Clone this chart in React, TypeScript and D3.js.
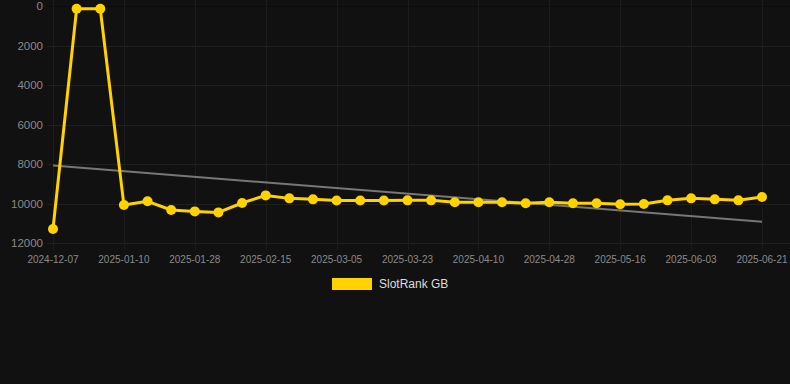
import React from "react";
import * as d3 from "d3";

const categories: string[] = [
  "2024-12-07", "2024-12-25", "2025-01-04", "2025-01-10", "2025-01-16", "2025-01-22",
  "2025-01-28", "2025-02-03", "2025-02-09", "2025-02-15", "2025-02-21", "2025-02-27",
  "2025-03-05", "2025-03-11", "2025-03-17", "2025-03-23", "2025-03-29", "2025-04-04",
  "2025-04-10", "2025-04-16", "2025-04-22", "2025-04-28", "2025-05-04", "2025-05-10",
  "2025-05-16", "2025-05-22", "2025-05-28", "2025-06-03", "2025-06-09", "2025-06-15",
  "2025-06-21",
];

const rankValues: number[] = [
  11290, 140, 140, 10080, 9890, 10330, 10400, 10450, 9975, 9590, 9740, 9790,
  9850, 9850, 9850, 9840, 9840, 9940, 9940, 9940, 9990, 9940, 9990, 9990,
  10040, 10025, 9840, 9740, 9790, 9840, 9670,
];

const trendValues: number[] = [8080, 10920];

const yTicks: number[] = [0, 2000, 4000, 6000, 8000, 10000, 12000];

const seriesName = "SlotRank GB";

const W = 790;
const H = 384;

export default function App() {
  const x = d3.scalePoint<string>().domain(categories).range([53, 762]);
  const y = d3.scaleLinear().domain([0, 12000]).range([6, 243]);

  const labelCats = categories.filter((_, i) => i % 3 === 0);

  const line = d3
    .line<number>()
    .x((_, i) => x(categories[i]) as number)
    .y((d) => y(d));

  const x0 = x(categories[0]) as number;
  const x1 = x(categories[categories.length - 1]) as number;

  return (
    <svg
      width={W}
      height={H}
      style={{ position: "fixed", left: 0, top: 0, display: "block" }}
      fontFamily="'Liberation Sans', Arial, sans-serif"
    >
      <rect x={0} y={0} width={W} height={H} fill="#111111" />
      {/* horizontal grid */}
      {yTicks.map((t) => (
        <line
          key={"h" + t}
          x1={47}
          x2={W}
          y1={Math.round(y(t)) + 0.5}
          y2={Math.round(y(t)) + 0.5}
          stroke={t === 0 ? "#0b0b0b" : "#1f1f1f"}
          strokeWidth={1}
        />
      ))}
      {/* vertical grid */}
      {labelCats.map((c) => (
        <line
          key={"v" + c}
          x1={Math.round(x(c) as number) + 0.5}
          x2={Math.round(x(c) as number) + 0.5}
          y1={0}
          y2={250}
          stroke="#1c1c1c"
          strokeWidth={1}
        />
      ))}
      {/* y labels */}
      {yTicks.map((t) => (
        <text
          key={"yl" + t}
          x={43}
          y={y(t)}
          dy="0.35em"
          textAnchor="end"
          fontSize={11.5}
          fill="#8a8a8a"
        >
          {t}
        </text>
      ))}
      {/* x labels */}
      {labelCats.map((c) => (
        <text
          key={"xl" + c}
          x={x(c) as number}
          y={259.5}
          dy="0.35em"
          textAnchor="middle"
          fontSize={10}
          fill="#8a8a8a"
        >
          {c}
        </text>
      ))}
      {/* trend */}
      <line
        x1={x0}
        x2={x1}
        y1={y(trendValues[0])}
        y2={y(trendValues[1])}
        stroke="#777777"
        strokeWidth={2}
      />
      {/* series */}
      <path
        d={line(rankValues) || ""}
        fill="none"
        stroke="#FFD200"
        strokeWidth={3}
        strokeLinejoin="round"
      />
      {rankValues.map((v, i) => (
        <circle
          key={"p" + i}
          cx={x(categories[i]) as number}
          cy={y(v)}
          r={5}
          fill="#FFD200"
        />
      ))}
      {/* legend */}
      <rect x={332} y={278} width={40} height={12} fill="#FFD200" />
      <text x={379} y={284} dy="0.35em" fontSize={12} fill="#dddddd">
        {seriesName}
      </text>
    </svg>
  );
}
